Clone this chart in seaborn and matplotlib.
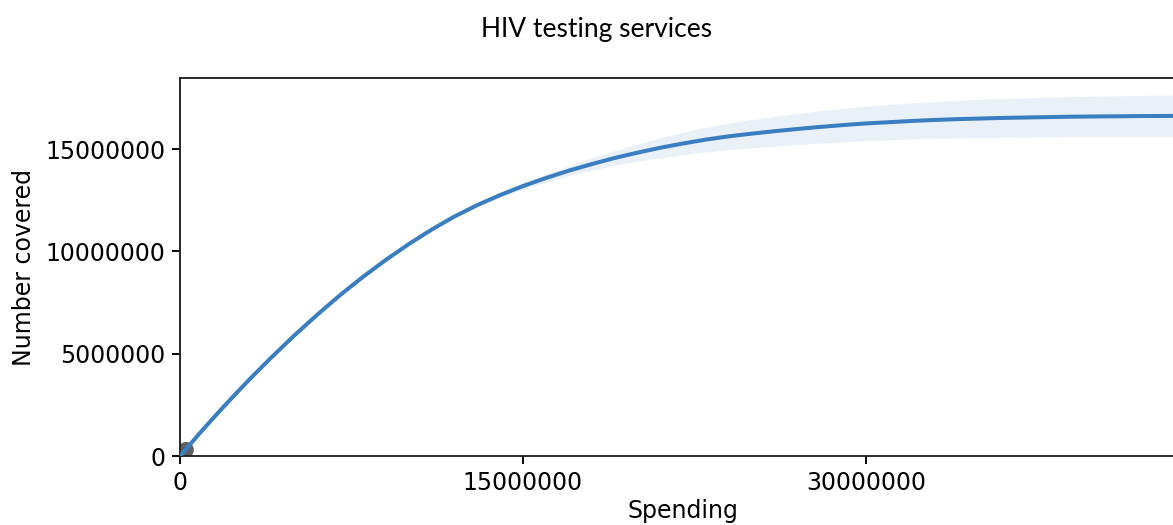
import pandas as pd
import matplotlib
matplotlib.use('Agg')
import matplotlib.pyplot as plt
import seaborn as sns

# 读取的数值（单位：百万）
spending = list(range(0, 45))
covered = [0, 1.29, 2.52, 3.70, 4.82, 5.89, 6.90, 7.86, 8.75, 9.58, 10.35,
           11.06, 11.70, 12.26, 12.75, 13.19, 13.58, 13.94, 14.26, 14.56, 14.82,
           15.06, 15.27, 15.46, 15.62, 15.75, 15.87, 15.98, 16.08, 16.17, 16.25,
           16.31, 16.37, 16.42, 16.46, 16.49, 16.52, 16.54, 16.56, 16.58, 16.59,
           16.60, 16.61, 16.615, 16.62]
# 置信带半宽
band_half = [0, 0, 0, 0, 0, 0, 0, 0, 0, 0, 0,
             0.02, 0.05, 0.08, 0.12, 0.16, 0.20, 0.25, 0.30, 0.36, 0.42,
             0.49, 0.55, 0.60, 0.65, 0.69, 0.73, 0.76, 0.79, 0.82, 0.84,
             0.86, 0.88, 0.90, 0.92, 0.94, 0.95, 0.96, 0.97, 0.98, 0.99,
             1.00, 1.01, 1.015, 1.02]

# 当前点
current_spending = [0.26]
current_covered = [0.30]

x_ticks = [0, 15000000, 30000000]
y_ticks = [0, 5000000, 10000000, 15000000]

df = pd.DataFrame({
    'Spending': [v * 1e6 for v in spending],
    'Number covered': [v * 1e6 for v in covered],
    'half': [v * 1e6 for v in band_half],
})
df['low'] = df['Number covered'] - df['half']
df['high'] = df['Number covered'] + df['half']
dot = pd.DataFrame({
    'Spending': [v * 1e6 for v in current_spending],
    'Number covered': [v * 1e6 for v in current_covered],
})

sns.set_style('ticks')
plt.rcParams['font.family'] = ['DejaVu Sans']

line_color = '#3a7dc0'

fig = plt.figure(figsize=(1173 / 170, 525 / 170), dpi=170)
ax = fig.add_axes([180 / 1173, 69 / 525, 1006 / 1173, 378 / 525])

ax.fill_between(df['Spending'], df['low'], df['high'], color=line_color, alpha=0.11, linewidth=0)
sns.scatterplot(data=dot, x='Spending', y='Number covered', ax=ax, color='#444444',
                s=45, alpha=0.85, edgecolor='none', zorder=2)
sns.lineplot(data=df, x='Spending', y='Number covered', ax=ax, color=line_color,
             linewidth=1.7, zorder=3)

ax.set_xlim(0, 44.0e6)
ax.set_ylim(0, 18.47e6)
ax.set_xticks(x_ticks)
ax.set_yticks(y_ticks)
ax.ticklabel_format(style='plain', useOffset=False)
ax.tick_params(colors='black', labelsize=10, length=3.5, width=0.8, pad=2.8)
for s in ax.spines.values():
    s.set_color('#222222')
    s.set_linewidth(0.8)
ax.set_xlabel('Spending', fontsize=10, labelpad=1.8, color='black')
ax.set_ylabel('Number covered', fontsize=10, color='black')

fig.text(597 / 1173, 1 - 29 / 525, 'HIV testing services', ha='center', va='center',
         fontsize=11.2, color='black', family=['Lato', 'DejaVu Sans'])

fig.savefig('out.png', dpi=170)
